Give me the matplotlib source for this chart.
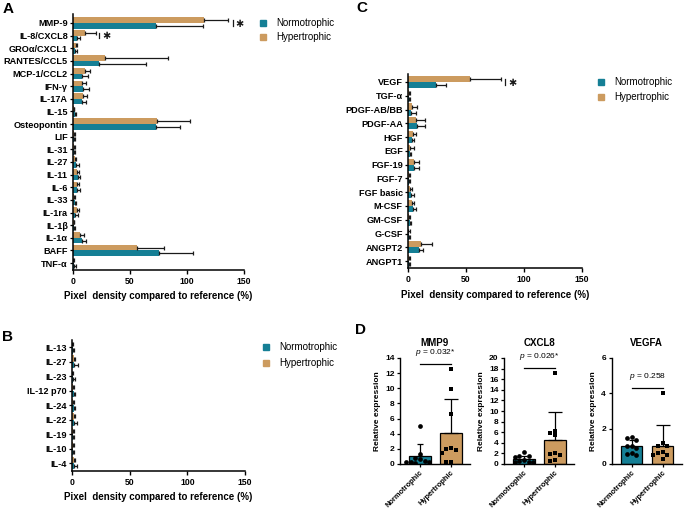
import numpy as np
import matplotlib
matplotlib.use('Agg')
import matplotlib.pyplot as plt
from matplotlib.patches import Rectangle

plt.rcParams['font.family'] = ['Liberation Sans', 'DejaVu Sans']
plt.rcParams['mathtext.fontset'] = 'custom'
plt.rcParams['mathtext.it'] = 'Liberation Sans:italic'
plt.rcParams['mathtext.rm'] = 'Liberation Sans'

TEAL = '#157f95'
TAN = '#cc9b5f'

# ---------------- data ----------------
A_cats = ['MMP-9', 'IL-8/CXCL8', 'GROα/CXCL1', 'RANTES/CCL5', 'MCP-1/CCL2', 'IFN-γ',
          'IL-17A', 'IL-15', 'Osteopontin', 'LIF', 'IL-31', 'IL-27', 'IL-11', 'IL-6',
          'IL-33', 'IL-1ra', 'IL-1β', 'IL-1α', 'BAFF', 'TNF-α']
A_norm = [73, 3.8, 2.0, 22.5, 7.6, 9.0, 7.6, 1.5, 72.5, 1.0, 1.0, 3.0, 4.0, 3.5, 1.5, 2.0, 0.8, 8.0, 75.0, 1.0]
A_norm_err = [41, 2.2, 1.5, 41.5, 5.4, 5.0, 3.8, 1.0, 21.4, 1.0, 1.0, 2.0, 2.0, 2.5, 1.5, 2.0, 0.7, 3.0, 30.5, 1.5]
A_hyp = [115, 10.5, 2.5, 28, 10.5, 7.6, 8.5, 0.5, 73.4, 0.5, 0.5, 1.5, 3.5, 3.5, 0.5, 3.5, 0.5, 6.5, 55.8, 0.3]
A_hyp_err = [21, 9.5, 1.0, 55, 4.0, 3.4, 4.0, 0.8, 29.2, 1.0, 1.0, 1.5, 2.0, 2.0, 1.0, 2.0, 0.8, 3.0, 24.2, 0.8]
A_sig = {'MMP-9': (140.4, 145.6), 'IL-8/CXCL8': (22.8, 29.0)}

B_cats = ['IL-13', 'IL-27', 'IL-23', 'IL-12 p70', 'IL-24', 'IL-22', 'IL-19', 'IL-10', 'IL-4']
B_norm = [0.5, 2.0, 1.0, 1.5, 1.5, 1.5, 1.0, 1.0, 1.5]
B_norm_err = [1.0, 3.0, 2.0, 1.0, 1.5, 2.5, 1.0, 1.0, 2.5]
B_hyp = [0.2, 1.5, 0.3, 1.0, 1.0, 1.5, 0.5, 0.5, 1.5]
B_hyp_err = [0.5, 1.0, 0.5, 1.0, 1.0, 1.5, 1.0, 1.0, 1.0]

C_cats = ['VEGF', 'TGF-α', 'PDGF-AB/BB', 'PDGF-AA', 'HGF', 'EGF', 'FGF-19', 'FGF-7',
          'FGF basic', 'M-CSF', 'GM-CSF', 'G-CSF', 'ANGPT2', 'ANGPT1']
C_norm = [23.9, 0.5, 3.0, 8.0, 3.5, 1.5, 5.0, 0.5, 2.5, 4.5, 1.5, 0.5, 9.5, 0.5]
C_norm_err = [8.9, 1.0, 4.0, 6.6, 1.5, 1.5, 4.5, 1.5, 2.5, 2.0, 1.0, 1.0, 3.1, 1.0]
C_hyp = [53.4, 0.5, 3.2, 7.0, 4.5, 2.0, 5.0, 0.5, 2.0, 3.5, 0.5, 0.3, 11.2, 0.5]
C_hyp_err = [26.6, 1.0, 4.6, 7.6, 2.0, 3.0, 4.8, 1.5, 1.5, 1.5, 1.0, 1.0, 9.2, 1.0]
C_sig = {'VEGF': (83.6, 89.7)}

D_genes = ['MMP9', 'CXCL8', 'VEGFA']
D_groups = ['Normotrophic', 'Hypertrophic']
D_norm_mean = [1.0, 1.0, 1.0]
D_norm_sd = [1.6, 0.6, 0.35]
D_hyp_mean = [4.1, 4.6, 1.0]
D_hyp_sd = [4.5, 5.3, 1.2]
D_norm_pts = [[5.0, 1.3, 0.8, 0.6, 0.4, 0.3, 0.3, 0.2, 0.1],
              [2.2, 1.6, 1.5, 1.4, 0.8, 0.5, 0.4, 0.3, 0.3],
              [1.55, 1.5, 1.35, 1.0, 1.0, 0.9, 0.6, 0.55, 0.5]]
D_hyp_pts = [[12.5, 9.9, 6.6, 2.1, 2.0, 1.8, 1.5, 0.3, 0.3],
             [17.2, 6.3, 5.9, 5.4, 2.0, 1.8, 1.7, 0.8, 0.5],
             [4.0, 1.2, 1.0, 1.0, 0.7, 0.5, 0.5, 0.3, 0.6]]
D_pvals = ['0.032*', '0.026*', '0.258']
D_ymax = [14, 20, 6]
D_ystep = [2, 2, 2]
D_sig_y = [13.2, 18.2, 4.3]

# ---------------- figure ----------------
W, H = 685, 509
fig = plt.figure(figsize=(W / 100, H / 100), dpi=100)


def add_ax(l, t, r, b):
    return fig.add_axes([l / W, 1 - b / H, (r - l) / W, (b - t) / H])


def style_spines(ax, lw=1.1):
    for s in ['top', 'right']:
        ax.spines[s].set_visible(False)
    for s in ['left', 'bottom']:
        ax.spines[s].set_linewidth(lw)


def hbar_panel(ax, cats, norm, norm_err, hyp, hyp_err, ylim, sig=None):
    n = len(cats)
    y = np.arange(n)
    h = 0.44
    ekw = dict(ecolor='#1a1a1a', elinewidth=0.9, capsize=1.6, capthick=0.9)
    ax.barh(y - h / 2, hyp, height=h, color=TAN,
            xerr=[np.zeros(n), hyp_err], error_kw=ekw)
    ax.barh(y + h / 2, norm, height=h, color=TEAL,
            xerr=[np.zeros(n), norm_err], error_kw=ekw)
    ax.set_xlim(0, 150)
    ax.set_ylim(*ylim)
    ax.set_yticks(y)
    ax.set_yticklabels(cats, fontsize=6.6, fontweight='bold')
    ax.set_xticks([0, 50, 100, 150])
    ax.set_xticklabels(['0', '50', '100', '150'], fontsize=6.2, fontweight='bold')
    ax.tick_params(axis='y', length=2.2, width=0.9, pad=1.5)
    ax.tick_params(axis='x', length=3, width=1.0, pad=2)
    style_spines(ax)
    if sig:
        for cat, (xb, xs) in sig.items():
            i = cats.index(cat)
            ax.plot([xb, xb], [i - 0.22, i + 0.22], color='#1a1a1a', lw=0.9)
            ax.text(xs, i + 0.05, '✱', fontsize=7, ha='center', va='center',
                    family='DejaVu Sans', color='#1a1a1a')


def legend_at(x, y, dy=15):
    for k, (lab, col) in enumerate([('Normotrophic', TEAL), ('Hypertrophic', TAN)]):
        yy = y + k * dy
        fig.add_artist(Rectangle(((x - 3) / W, 1 - (yy + 3) / H), 6 / W, 6 / H,
                                 transform=fig.transFigure, color=col))
        fig.text((x + 13) / W, 1 - yy / H, lab, fontsize=7, va='center', ha='left')


XLABEL = 'Pixel  density compared to reference (%)'

# Panel A
axA = add_ax(73, 14, 244, 270)
hbar_panel(axA, A_cats, A_norm, A_norm_err, A_hyp, A_hyp_err, (19.55, -0.71), A_sig)
fig.text((73 + 244) / 2 / W, 1 - 296 / H, XLABEL, fontsize=7, fontweight='bold',
         ha='center', va='center')
legend_at(263, 23, 14)

# Panel B
axB = add_ax(72, 340, 245, 471)
hbar_panel(axB, B_cats, B_norm, B_norm_err, B_hyp, B_hyp_err, (8.55, -0.5))
fig.text((72 + 245) / 2 / W, 1 - 497 / H, XLABEL, fontsize=7, fontweight='bold',
         ha='center', va='center')
legend_at(266, 347, 16)

# Panel C
axC = add_ax(408, 74, 582, 268)
hbar_panel(axC, C_cats, C_norm, C_norm_err, C_hyp, C_hyp_err, (13.5, -0.58), C_sig)
fig.text((408 + 582) / 2 / W, 1 - 295 / H, XLABEL, fontsize=7, fontweight='bold',
         ha='center', va='center')
legend_at(601, 82, 15)


# Panel D
def swarm_offsets(vals, px_per_y, px_per_x, thresh=4.6):
    order = np.argsort(vals)[::-1]
    placed = []
    offs = np.zeros(len(vals))
    cands = [0, -1, 1, -2, 2, -3, 3]
    for i in order:
        for c in cands:
            ox = c * thresh
            ok = True
            for (px, py) in placed:
                if np.hypot(px - ox, py - vals[i] * px_per_y) < thresh:
                    ok = False
                    break
            if ok:
                break
        placed.append((ox, vals[i] * px_per_y))
        offs[i] = ox / px_per_x
    return offs


D_lefts = [400, 504, 611.5]
for g in range(3):
    l = D_lefts[g]
    ax = add_ax(l, 358, l + 70, 464)
    spacing = 31.0
    ax.set_xlim(-20 / spacing, 50 / spacing)
    ax.set_ylim(0, D_ymax[g])
    px_per_y = 106.0 / D_ymax[g]
    means = [D_norm_mean[g], D_hyp_mean[g]]
    sds = [D_norm_sd[g], D_hyp_sd[g]]
    ax.bar([0, 1], means, width=0.68, color=[TEAL, TAN], edgecolor='black',
           linewidth=0.9, zorder=2)
    for k, cs in enumerate([2.3, 4.8]):
        ax.errorbar([k], [means[k]], yerr=[[0], [sds[k]]], fmt='none', ecolor='black',
                    elinewidth=0.9, capsize=cs, capthick=0.9, zorder=3)
    for k, (pts, mk) in enumerate([(D_norm_pts[g], 'o'), (D_hyp_pts[g], 's')]):
        pts = np.array(pts)
        offs = swarm_offsets(pts, px_per_y, spacing)
        ax.plot(k + offs, pts, mk, color='black', markersize=3.4, zorder=4,
                markeredgewidth=0)
    ax.plot([0, 1], [D_sig_y[g], D_sig_y[g]], color='black', lw=0.9)
    ax.text(0.5, D_sig_y[g] + 6 / px_per_y, '$p$ = ' + D_pvals[g], fontsize=6,
            ha='center', va='bottom')
    ax.set_yticks(np.arange(0, D_ymax[g] + 0.1, D_ystep[g]))
    ax.set_yticklabels([str(int(v)) for v in np.arange(0, D_ymax[g] + 0.1, D_ystep[g])],
                       fontsize=6, fontweight='bold')
    ax.set_xticks([0, 1])
    ax.set_xticklabels(D_groups, rotation=45, ha='right', rotation_mode='anchor',
                       fontsize=5.4, fontweight='bold')
    ax.tick_params(axis='y', length=2.5, width=0.9, pad=1.5)
    ax.tick_params(axis='x', length=2.5, width=0.9, pad=1)
    ax.set_ylabel('Relative expression', fontsize=6, fontweight='bold', labelpad=3)
    ax.set_title(D_genes[g], fontsize=7, fontweight='bold', pad=9)
    style_spines(ax, 1.0)

# panel letters
for lab, x, y in [('A', 8, 9), ('B', 8, 337), ('C', 362, 8), ('D', 361, 330)]:
    fig.text(x / W, 1 - y / H, lab, fontsize=11, fontweight='bold', ha='center', va='center')

fig.savefig('out.png', dpi=100)
